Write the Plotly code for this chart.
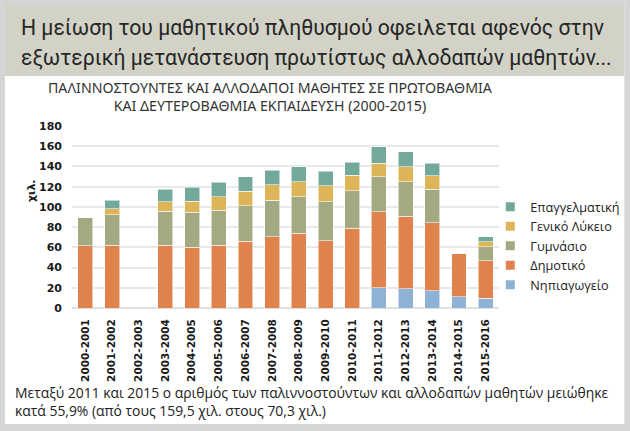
import plotly.graph_objects as go

W, H = 630, 431
L, R, T, B = 72, 498.7, 126, 308  # plot area pixel bounds

categories = ["2000-2001", "2001-2002", "2002-2003", "2003-2004", "2004-2005", "2005-2006",
              "2006-2007", "2007-2008", "2008-2009", "2009-2010", "2010-2011", "2011-2012",
              "2012-2013", "2013-2014", "2014-2015", "2015-2016"]

nipiagogeio = [None, None, None, None, None, None, None, None, None, None, None, 19.8, 18.8, 17.1, 10.9, 9.6]
dimotiko = [61.8, 62.0, None, 62.3, 60.3, 62.3, 66.0, 70.5, 73.9, 66.3, 78.8, 75.5, 71.9, 67.0, 42.8, 36.9]
gymnasio = [27.5, 30.3, None, 33.3, 34.3, 34.3, 35.2, 36.3, 36.2, 38.8, 37.2, 34.3, 34.2, 33.3, None, 14.1]
lykeio = [None, 5.9, None, 9.5, 11.2, 13.2, 14.5, 14.9, 14.8, 15.6, 15.5, 13.5, 14.6, 13.2, None, 4.7]
epaggelmatiki = [None, 8.6, None, 12.3, 13.6, 14.8, 14.2, 14.5, 14.9, 14.5, 12.9, 16.4, 14.8, 12.5, None, 5.0]

series_names = ["Νηπιαγωγείο", "Δημοτικό", "Γυμνάσιο", "Γενικό Λύκειο", "Επαγγελματική"]
series_values = [nipiagogeio, dimotiko, gymnasio, lykeio, epaggelmatiki]
series_colors = ["#8db2d5", "#e0824b", "#a3a980", "#ddb558", "#72a99b"]

y_ticks = [0, 20, 40, 60, 80, 100, 120, 140, 160, 180]

band_lines = ["Η μείωση του μαθητικού πληθυσμού οφειλεται αφενός στην",
              "εξωτερική μετανάστευση πρωτίστως αλλοδαπών μαθητών..."]
chart_title = ["ΠΑΛΙΝΝΟΣΤΟΥΝΤΕΣ ΚΑΙ ΑΛΛΟΔΑΠΟΙ ΜΑΘΗΤΕΣ ΣΕ ΠΡΩΤΟΒΑΘΜΙΑ",
               "ΚΑΙ ΔΕΥΤΕΡΟΒΑΘΜΙΑ ΕΚΠΑΙΔΕΥΣΗ (2000-2015)"]
footer_lines = ["Μεταξύ 2011 και 2015 ο αριθμός των παλιννοστούντων και αλλοδαπών μαθητών μειώθηκε",
                "κατά 55,9% (από τους 159,5 χιλ. στους 70,3 χιλ.)"]
y_title = "χιλ."


def px(x):
    return (x - L) / (R - L)


def py(y):
    return (B - y) / (B - T)


fig = go.Figure()
for name, vals, col in zip(series_names, series_values, series_colors):
    fig.add_trace(go.Bar(
        x=categories, y=vals, name=name, showlegend=False,
        marker=dict(color=col, line=dict(color="rgba(255,255,255,0.55)", width=1)),
    ))
# legend-only entries with small square symbols
for name, col in zip(series_names, series_colors):
    fig.add_trace(go.Scatter(
        x=[None], y=[None], mode="markers", name=name,
        marker=dict(symbol="square", size=9, color=col),
    ))

shapes = [
    dict(type="rect", xref="paper", yref="paper", x0=px(0), x1=px(W), y0=py(H), y1=py(0),
         fillcolor="#d5d5d5", line=dict(width=0), layer="below"),
    dict(type="rect", xref="paper", yref="paper", x0=px(5), x1=px(624), y0=py(424), y1=py(4),
         fillcolor="#ffffff", line=dict(width=0), layer="below"),
    dict(type="rect", xref="paper", yref="paper", x0=px(5), x1=px(624), y0=py(76), y1=py(4),
         fillcolor="#d2d3c6", line=dict(width=0), layer="below"),
]

annotations = []
for i, t in enumerate(band_lines):
    annotations.append(dict(
        text=t, xref="paper", yref="paper", x=px(19), y=py(28 + 29 * i),
        xanchor="left", yanchor="middle", showarrow=False,
        font=dict(family="Roboto, sans-serif", size=21.2, color="#262626"),
    ))
annotations.append(dict(
    text="<br>".join(chart_title), xref="paper", yref="paper", x=px(270), y=py(97),
    xanchor="center", yanchor="middle", showarrow=False, align="center",
    font=dict(family="Noto Sans, sans-serif", size=14.2, color="#333333"),
))
annotations.append(dict(
    text="<br>".join(footer_lines), xref="paper", yref="paper", x=px(13), y=py(401),
    xanchor="left", yanchor="middle", showarrow=False, align="left",
    font=dict(family="Open Sans, sans-serif", size=13.9, color="#222222"),
))
annotations.append(dict(
    text="<b>" + y_title + "</b>", xref="paper", yref="paper", x=px(31), y=py(190),
    xanchor="center", yanchor="middle", showarrow=False, textangle=-90,
    font=dict(family="DejaVu Sans, sans-serif", size=11, color="#1a1a1a"),
))

fig.update_layout(
    width=W, height=H, autosize=False,
    margin=dict(l=L, r=W - R, t=T, b=H - B, pad=0, autoexpand=False),
    paper_bgcolor="#d5d5d5", plot_bgcolor="rgba(0,0,0,0)",
    barmode="stack", bargap=0.44,
    shapes=shapes, annotations=annotations,
    legend=dict(
        x=px(490), y=py(246), xanchor="left", yanchor="middle",
        traceorder="reversed", bgcolor="rgba(0,0,0,0)",
        font=dict(family="Open Sans, sans-serif", size=12.7, color="#222222"),
        tracegroupgap=0, itemwidth=30,
    ),
    xaxis=dict(
        type="category", tickangle=-90, showgrid=False, showline=False, zeroline=False,
        ticks="", ticklabelstandoff=8,
        tickfont=dict(family="DejaVu Sans, sans-serif", size=10.5, color="#1a1a1a", weight="bold"),
    ),
    yaxis=dict(
        range=[0, 180], tickvals=y_ticks, showgrid=True, gridcolor="#e8e8e8", gridwidth=2,
        zeroline=True, zerolinecolor="#e0e0e0", zerolinewidth=2, showline=False, ticks="",
        ticklabelstandoff=9,
        tickfont=dict(family="DejaVu Sans, sans-serif", size=11, color="#1a1a1a", weight="bold"),
    ),
)

fig.write_html("out.html")
